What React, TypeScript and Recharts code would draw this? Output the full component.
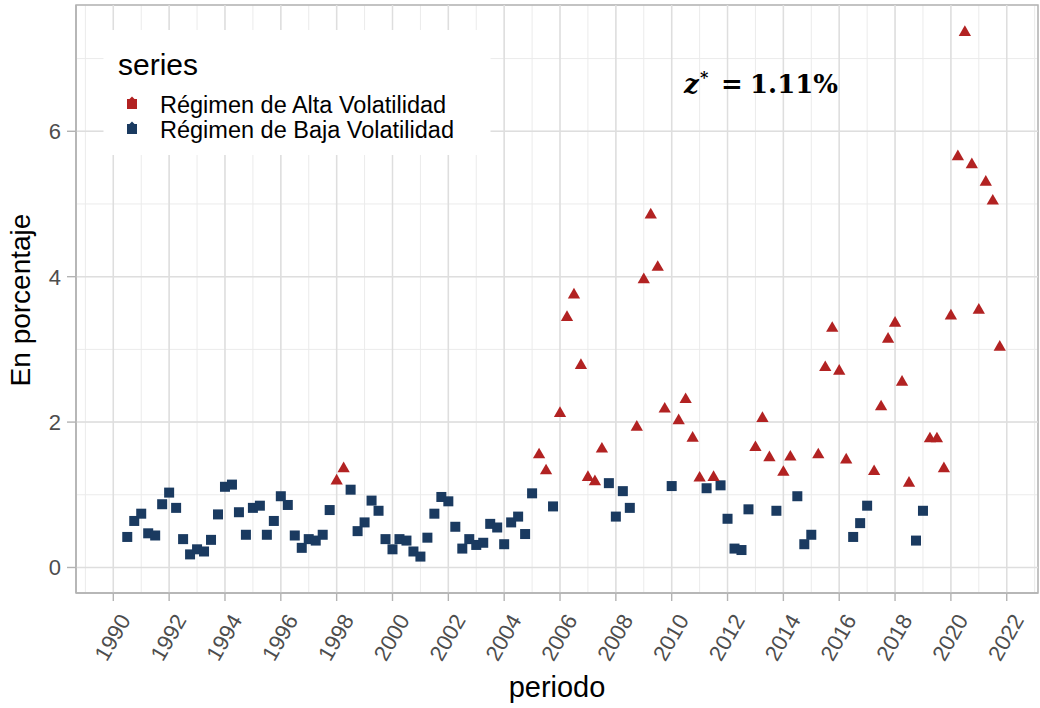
import React from "react";
import {
  ScatterChart,
  Scatter,
  XAxis,
  YAxis,
  CartesianGrid,
  ReferenceLine,
  ReferenceArea,
} from "recharts";

// Quarterly periods (year + quarter)
const periodo: string[] = [
  "1990T3", "1990T4",
  "1991T1", "1991T2", "1991T3", "1991T4",
  "1992T1", "1992T2", "1992T3", "1992T4",
  "1993T1", "1993T2", "1993T3", "1993T4",
  "1994T1", "1994T2", "1994T3", "1994T4",
  "1995T1", "1995T2", "1995T3", "1995T4",
  "1996T1", "1996T2", "1996T3", "1996T4",
  "1997T1", "1997T2", "1997T3", "1997T4",
  "1998T1", "1998T2", "1998T3", "1998T4",
  "1999T1", "1999T2", "1999T3", "1999T4",
  "2000T1", "2000T2", "2000T3", "2000T4",
  "2001T1", "2001T2", "2001T3", "2001T4",
  "2002T1", "2002T2", "2002T3", "2002T4",
  "2003T1", "2003T2", "2003T3", "2003T4",
  "2004T1", "2004T2", "2004T3", "2004T4",
  "2005T1", "2005T2", "2005T3", "2005T4",
  "2006T1", "2006T2", "2006T3", "2006T4",
  "2007T1", "2007T2", "2007T3", "2007T4",
  "2008T1", "2008T2", "2008T3", "2008T4",
  "2009T1", "2009T2", "2009T3", "2009T4",
  "2010T1", "2010T2", "2010T3", "2010T4",
  "2011T1", "2011T2", "2011T3", "2011T4",
  "2012T1", "2012T2", "2012T3", "2012T4",
  "2013T1", "2013T2", "2013T3", "2013T4",
  "2014T1", "2014T2", "2014T3", "2014T4",
  "2015T1", "2015T2", "2015T3", "2015T4",
  "2016T1", "2016T2", "2016T3", "2016T4",
  "2017T1", "2017T2", "2017T3", "2017T4",
  "2018T1", "2018T2", "2018T3", "2018T4",
  "2019T1", "2019T2", "2019T3", "2019T4",
  "2020T1", "2020T2", "2020T3", "2020T4",
  "2021T1", "2021T2", "2021T3", "2021T4",
];

// Values in percent
const valores: number[] = [
  0.42, 0.64,
  0.74, 0.47, 0.44, 0.87,
  1.03, 0.82, 0.39, 0.18,
  0.25, 0.22, 0.38, 0.73,
  1.11, 1.14, 0.76, 0.45,
  0.82, 0.85, 0.45, 0.64,
  0.98, 0.86, 0.44, 0.27,
  0.39, 0.37, 0.45, 0.79,
  1.19, 1.36, 1.07, 0.5,
  0.62, 0.92, 0.78, 0.39,
  0.25, 0.39, 0.37, 0.22,
  0.15, 0.41, 0.74, 0.97,
  0.91, 0.56, 0.26, 0.39,
  0.31, 0.34, 0.6, 0.55,
  0.32, 0.62, 0.7, 0.46,
  1.02, 1.55, 1.33, 0.84,
  2.12, 3.44, 3.75, 2.78,
  1.24, 1.18, 1.63, 1.16,
  0.7, 1.05, 0.82, 1.93,
  3.96, 4.85, 4.13, 2.18,
  1.12, 2.02, 2.31, 1.78,
  1.23, 1.09, 1.24, 1.13,
  0.67, 0.26, 0.24, 0.8,
  1.65, 2.05, 1.51, 0.78,
  1.31, 1.52, 0.98, 0.32,
  0.45, 1.55, 2.75, 3.29,
  2.7, 1.48, 0.42, 0.61,
  0.85, 1.32, 2.21, 3.14,
  3.36, 2.55, 1.16, 0.37,
  0.78, 1.77, 1.77, 1.36,
  3.46, 5.65, 7.36, 5.54,
  3.54, 5.3, 5.04, 3.03,
];

// Regime per quarter: A = Alta, B = Baja
const regimen: string[] = [
  "BB",
  "BBBB", "BBBB", "BBBB", "BBBB", "BBBB", "BBBB", "BBBB",
  "AABB",
  "BBBB", "BBBB", "BBBB", "BBBB", "BBBB", "BBBB",
  "BAAB", "AAAA", "AAAB", "BBBA", "AAAA", "BAAA", "ABAB", "BBBB",
  "AAAB", "AABB", "BAAA", "AABB", "BAAA", "AAAB", "BAAA", "AAAA", "AAAA",
].join("").split("");

const seriesNames = ["Régimen de Alta Volatilidad", "Régimen de Baja Volatilidad"];
const xTicks: number[] = [
  1989, 1990, 1991, 1992, 1993, 1994, 1995, 1996, 1997, 1998, 1999, 2000,
  2001, 2002, 2003, 2004, 2005, 2006, 2007, 2008, 2009, 2010, 2011, 2012,
  2013, 2014, 2015, 2016, 2017, 2018, 2019, 2020, 2021, 2022, 2023,
];
const yTicks: number[] = [0, 1, 2, 3, 4, 5, 6, 7];
const X_DOMAIN: [number, number] = [1988.664, 2023.12];
const Y_DOMAIN: [number, number] = [-0.351, 7.737];

const RED = "#B22222";
const BLUE = "#1A3A60";
const TICK_COLOR = "#4D4D4D";
const FONT = "'Liberation Sans', Arial, sans-serif";

const toYear = (p: string) => Number(p.slice(0, 4)) + (Number(p.slice(5)) - 1) / 4;

const altaData = periodo
  .map((p, i) => ({ x: toYear(p), y: valores[i], r: regimen[i] }))
  .filter((d) => d.r === "A");
const bajaData = periodo
  .map((p, i) => ({ x: toYear(p), y: valores[i], r: regimen[i] }))
  .filter((d) => d.r === "B");

const SquareShape = (props: any) => {
  const { cx, cy } = props;
  if (cx == null || cy == null) return null;
  return <rect x={cx - 5} y={cy - 5} width={10} height={10} fill={BLUE} />;
};

const TriangleShape = (props: any) => {
  const { cx, cy } = props;
  if (cx == null || cy == null) return null;
  const s = 12.3;
  const h = (s * Math.sqrt(3)) / 2;
  const pts = `${cx},${cy - (2 * h) / 3} ${cx - s / 2},${cy + h / 3} ${cx + s / 2},${cy + h / 3}`;
  return <polygon points={pts} fill={RED} />;
};

const XTick = (props: any) => {
  const { x, y, payload } = props;
  const v = payload.value;
  if (v % 2 !== 0) return null;
  return (
    <g>
      <line x1={x} x2={x} y1={y - 8} y2={y} stroke="#B3B3B3" strokeWidth={1.4} />
      <text
        transform={`translate(${x + 18},${y + 19}) rotate(-60)`}
        textAnchor="end"
        fontSize={22}
        fontFamily={FONT}
        fill={TICK_COLOR}
      >
        {v}
      </text>
    </g>
  );
};

const YTick = (props: any) => {
  const { x, y, payload } = props;
  const v = payload.value;
  if (v % 2 !== 0) return null;
  return (
    <g>
      <line x1={x} x2={x + 9} y1={y} y2={y} stroke="#B3B3B3" strokeWidth={1.4} />
      <text
        x={x - 6}
        y={y}
        dy="0.36em"
        textAnchor="end"
        fontSize={22}
        fontFamily={FONT}
        fill={TICK_COLOR}
      >
        {v}
      </text>
    </g>
  );
};

export default function App() {
  return (
    <div style={{ position: "absolute", left: 0, top: 0, width: 1040, height: 708, background: "#fff" }}>
      <ScatterChart
        width={1040}
        height={708}
        margin={{ top: 5, right: 2, bottom: 0, left: 0 }}
      >
        <CartesianGrid stroke="#EBEBEB" strokeWidth={1} />
        {xTicks
          .filter((t) => t % 2 === 0)
          .map((t) => (
            <ReferenceLine key={`vx${t}`} x={t} stroke="#DEDEDE" strokeWidth={1.5} />
          ))}
        {yTicks
          .filter((t) => t % 2 === 0)
          .map((t) => (
            <ReferenceLine key={`hy${t}`} y={t} stroke="#DEDEDE" strokeWidth={1.5} />
          ))}
        <ReferenceArea
          x1={X_DOMAIN[0]}
          x2={X_DOMAIN[1]}
          y1={Y_DOMAIN[0]}
          y2={Y_DOMAIN[1]}
          fill="none"
          fillOpacity={0}
          stroke="#B3B3B3"
          strokeWidth={1.5}
        />
        <XAxis
          type="number"
          dataKey="x"
          domain={X_DOMAIN}
          ticks={xTicks}
          interval={0}
          allowDataOverflow
          height={115}
          axisLine={{ stroke: "#B3B3B3", strokeWidth: 1.5 }}
          tickLine={{ stroke: "transparent" }}
          tickSize={8}
          tickMargin={0}
          tick={<XTick />}
        />
        <YAxis
          type="number"
          dataKey="y"
          domain={Y_DOMAIN}
          ticks={yTicks}
          interval={0}
          allowDataOverflow
          width={76}
          axisLine={{ stroke: "#B3B3B3", strokeWidth: 1.5 }}
          tickLine={{ stroke: "transparent" }}
          tickSize={9}
          tickMargin={0}
          tick={<YTick />}
        />
        <Scatter
          name={seriesNames[1]}
          data={bajaData}
          shape={(p: any) => <SquareShape {...p} />}
          isAnimationActive={false}
        />
        <Scatter
          name={seriesNames[0]}
          data={altaData}
          shape={(p: any) => <TriangleShape {...p} />}
          isAnimationActive={false}
        />
      </ScatterChart>
      <svg
        width={1040}
        height={708}
        style={{ position: "absolute", left: 0, top: 0, pointerEvents: "none" }}
      >
        {/* legend */}
        <rect x={103.5} y={30} width={387} height={125} fill="#FFFFFF" />
        <text x={118} y={75} fontSize={30} fontFamily={FONT} fill="#000">
          series
        </text>
        <rect x={127} y={99} width={10} height={10} fill={RED} />
        <polygon points="129.5,99 134.5,99 132,96.5" fill={RED} />
        <text x={160} y={113.3} fontSize={23.5} fontFamily={FONT} fill="#000">
          {seriesNames[0]}
        </text>
        <rect x={127} y={124} width={10} height={10} fill={BLUE} />
        <polygon points="129.5,124 134.5,124 132,121.5" fill={BLUE} />
        <text x={160} y={138.3} fontSize={23.5} fontFamily={FONT} fill="#000">
          {seriesNames[1]}
        </text>
        {/* annotation */}
        <text y={93} fontFamily="'DejaVu Serif', serif" fontWeight="bold" fill="#000" fontSize={26}>
          <tspan x={684} fontStyle="italic">z</tspan>
          <tspan x={700} dy={-10} fontSize={16}>*</tspan>
          <tspan x={721} dy={10}>=</tspan>
          <tspan x={750}>1.11%</tspan>
        </text>
        {/* axis titles */}
        <text x={557} y={697} textAnchor="middle" fontSize={29} fontFamily={FONT} fill="#000">
          periodo
        </text>
        <text
          transform="translate(29.5,300) rotate(-90)"
          textAnchor="middle"
          fontSize={28}
          fontFamily={FONT}
          fill="#000"
        >
          En porcentaje
        </text>
      </svg>
    </div>
  );
}
